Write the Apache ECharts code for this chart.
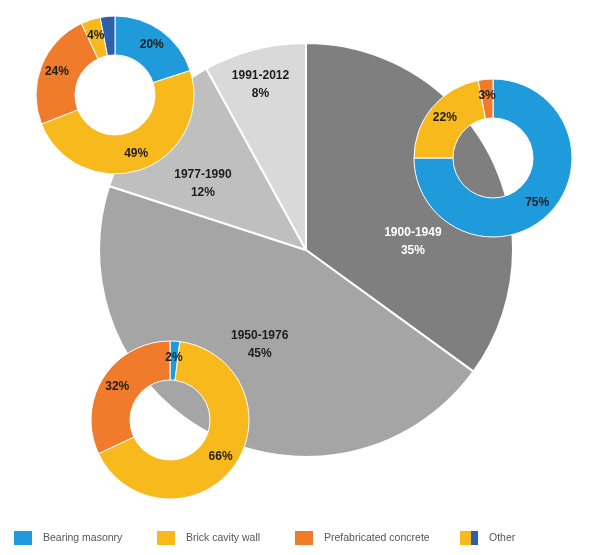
<!DOCTYPE html>
<html>
<head>
<meta charset="utf-8">
<script src="https://cdn.jsdelivr.net/npm/echarts@6/dist/echarts.min.js"></script>
<style>
  html, body { margin: 0; padding: 0; background: #fff; }
  #chart { width: 607px; height: 555px; }
</style>
</head>
<body>
<div id="chart"></div>
<script>
// construction periods (main pie), share of stock in %
var periods = ['1900-1949', '1950-1976', '1977-1990', '1991-2012'];
var periodShare = [35, 45, 12, 8];

// wall types per donut, values in %
var wallTypes = ['Bearing masonry', 'Brick cavity wall', 'Prefabricated concrete', 'Other'];
var donutTopLeft = [
  ['Bearing masonry', 20],
  ['Brick cavity wall', 49],
  ['Prefabricated concrete', 24],
  ['Other', 4],
  ['Other', 3]
];
var donutTopRight = [
  ['Bearing masonry', 75],
  ['Brick cavity wall', 22],
  ['Prefabricated concrete', 3]
];
var donutBottom = [
  ['Bearing masonry', 2],
  ['Brick cavity wall', 66],
  ['Prefabricated concrete', 32]
];

var grays = ['#7f7f7f', '#a5a5a5', '#bfbfbf', '#d9d9d9'];
var typeColor = {
  'Bearing masonry': '#1f9bdb',
  'Brick cavity wall': '#f8b91d',
  'Prefabricated concrete': '#ef7b2b'
};
var otherColors = ['#f8b91d', '#2c60aa'];
// label nudges for the big pie (excel-like placement)
var mainLabelShift = { '1900-1949': [12, 40], '1950-1976': [2, 0], '1977-1990': [-21, 2], '1991-2012': [-19, -62] };

var fontFam = '"Liberation Sans", Arial, sans-serif';

function buildDonut(rows, center, hideIdx) {
  var otherCount = 0;
  var data = rows.map(function (r, i) {
    var col;
    if (r[0] == 'Other') { col = otherColors[otherCount]; otherCount++; }
    else col = typeColor[r[0]];
    var item = { name: r[0], value: r[1], itemStyle: { color: col } };
    if (hideIdx === i) item.label = { show: false };
    return item;
  });
  return {
    type: 'pie',
    center: center,
    radius: [40, 79],
    startAngle: 90,
    clockwise: true,
    silent: true,
    animation: false,
    z: 3,
    itemStyle: { borderColor: '#fff', borderWidth: 1 },
    label: {
      show: true,
      position: 'inside',
      formatter: '{c}%',
      color: '#1d1d1d',
      fontFamily: fontFam,
      fontWeight: 'bold',
      fontSize: 12
    },
    labelLine: { show: false },
    data: data
  };
}

var mainData = periods.map(function (p, i) {
  return {
    name: p,
    value: periodShare[i],
    itemStyle: { color: grays[i] },
    label: { offset: mainLabelShift[p], color: i == 0 ? '#fff' : '#1d1d1d' }
  };
});

var legendBase = {
  top: 524,
  orient: 'horizontal',
  selectedMode: false,
  itemWidth: 20,
  itemHeight: 16,
  icon: 'rect',
  textStyle: { fontFamily: fontFam, fontSize: 10.5, color: '#555', padding: [0, 0, 0, 5] }
};
var legendLefts = [7, 150, 288, 453];
var legends = wallTypes.map(function (t, i) {
  var entry = { name: t };
  if (t == 'Other') {
    entry.itemStyle = {
      color: {
        type: 'linear', x: 0, y: 0, x2: 1, y2: 0,
        colorStops: [
          { offset: 0, color: otherColors[0] },
          { offset: 0.58, color: otherColors[0] },
          { offset: 0.58, color: otherColors[1] },
          { offset: 1, color: otherColors[1] }
        ]
      }
    };
  }
  return Object.assign({}, legendBase, { left: legendLefts[i], data: [entry] });
});

var option = {
  backgroundColor: '#fff',
  animation: false,
  legend: legends,
  series: [
    {
      type: 'pie',
      center: [306, 250],
      radius: [0, 207],
      startAngle: 90,
      clockwise: true,
      silent: true,
      z: 1,
      itemStyle: { borderColor: '#fff', borderWidth: 2 },
      label: {
        show: true,
        position: 'inside',
        formatter: '{b}\n{c}%',
        fontFamily: fontFam,
        fontWeight: 'bold',
        fontSize: 12,
        lineHeight: 18
      },
      labelLine: { show: false },
      data: mainData
    },
    buildDonut(donutTopLeft, [115, 95], 4),
    buildDonut(donutTopRight, [493, 158]),
    buildDonut(donutBottom, [170, 420])
  ]
};

var myChart = echarts.init(document.getElementById('chart'));
myChart.setOption(option);
</script>
</body>
</html>
